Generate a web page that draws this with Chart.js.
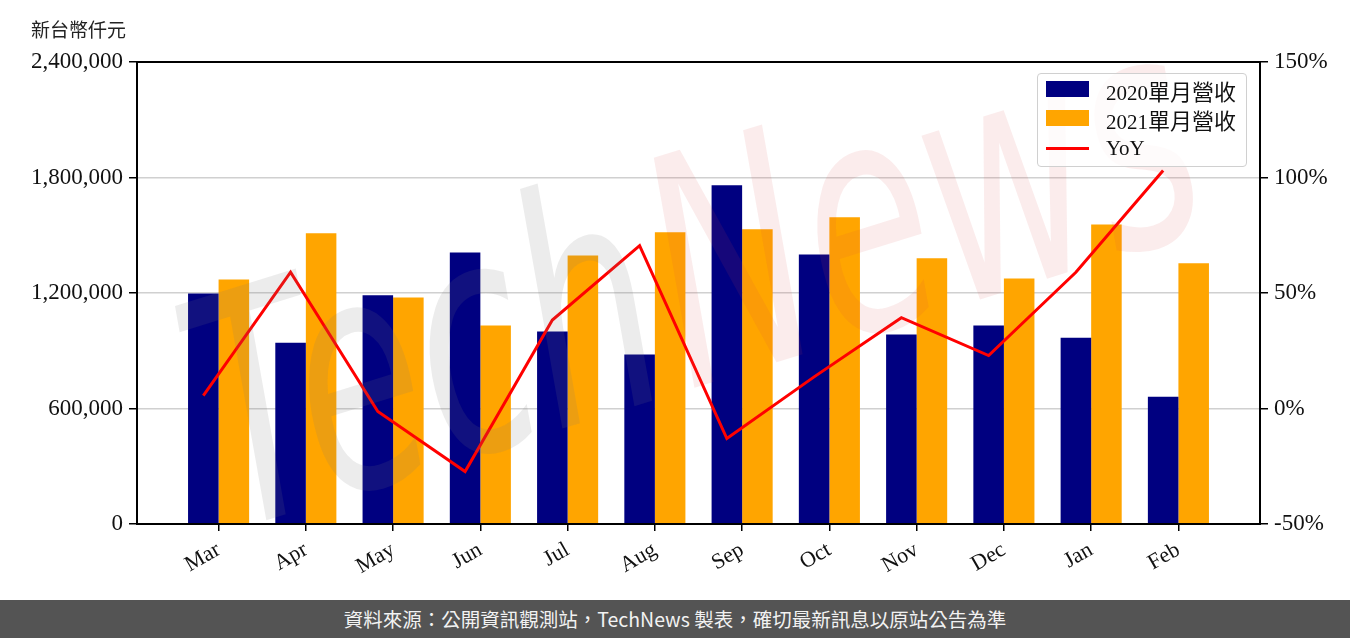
<!DOCTYPE html>
<html lang="zh-TW">
<head>
    <meta charset="UTF-8">
    <title>單月營收</title>
    <script src="https://cdn.jsdelivr.net/npm/chart.js"></script>
    <style>
        body { margin: 0; background: #fff; }
        #wrap { position: relative; width: 1350px; height: 600px; }
        .unit {
            position: absolute; left: 31px; top: 15px;
            font: 19px 'Noto Sans CJK TC', sans-serif; color: #222;
        }
        .legend {
            position: absolute; left: 1037px; top: 73px; width: 208px; height: 92px;
            border: 1px solid #d0d0d0; border-radius: 4px;
            background: rgba(255,255,255,0.8);
        }
        .legend .patch { position: absolute; left: 8px; width: 43px; height: 16px; }
        .legend .txt {
            position: absolute; left: 68px; white-space: nowrap; color: #111;
            font-family: 'Liberation Serif', serif; font-size: 21px; line-height: 24px;
        }
        .legend .txt span { font-family: 'Noto Sans CJK TC', sans-serif; font-size: 22px; }
        .footer {
            width: 1350px; height: 38px; background: #545454; color: #f2f2f2;
            font: 19.5px 'Noto Sans CJK TC', sans-serif; text-align: center; line-height: 38px;
        }
    </style>
</head>
<body>
    <div id="wrap">
        <canvas id="chart" width="1350" height="600"></canvas>
        <div class="unit">新台幣仟元</div>
        <div class="legend">
            <div class="patch" style="top:7px;background:#000080"></div>
            <div class="txt" style="top:4px">2020<span>單月營收</span></div>
            <div class="patch" style="top:36px;background:#ffa500"></div>
            <div class="txt" style="top:33px">2021<span>單月營收</span></div>
            <div class="patch" style="top:73px;height:3px;background:#ff0000"></div>
            <div class="txt" style="top:62px">YoY</div>
        </div>
    </div>
    <div class="footer">資料來源：公開資訊觀測站，TechNews 製表，確切最新訊息以原站公告為準</div>

    <script>
        // datos
        const meses = ['Mar', 'Apr', 'May', 'Jun', 'Jul', 'Aug', 'Sep', 'Oct', 'Nov', 'Dec', 'Jan', 'Feb'];
        const rev2020 = [1197000, 942000, 1188000, 1411000, 1000000, 880000, 1760000, 1400000, 984000, 1031000, 968000, 661000];
        const rev2021 = [1270000, 1510000, 1176000, 1031000, 1395000, 1515000, 1531000, 1593000, 1380000, 1275000, 1556000, 1354000];
        const yoy = [5.6, 59, -1.3, -27.3, 38.3, 70.5, -13, 13.7, 39.3, 22.9, 59, 103];
        const leftTicks = [0, 600000, 1200000, 1800000, 2400000];
        const rightTicks = [-50, 0, 50, 100, 150];

        Chart.defaults.font.family = "'Liberation Serif', 'Noto Sans CJK TC', serif";
        Chart.defaults.color = '#111';

        // marco negro alrededor del área del gráfico + marca de agua
        const marco = {
            id: 'marco',
            afterDatasetsDraw(chart) {
                const ctx = chart.ctx, a = chart.chartArea;
                ctx.save();
                ctx.beginPath();
                ctx.rect(a.left, a.top, a.right - a.left, a.bottom - a.top);
                ctx.clip();
                ctx.translate(660, 312);
                ctx.rotate(-0.30);
                ctx.scale(1, 1.55);
                ctx.font = "italic 205px 'DejaVu Sans'";
                ctx.textBaseline = 'middle';
                ctx.textAlign = 'right';
                ctx.fillStyle = 'rgba(120,120,120,0.14)';
                ctx.fillText('Tech', -5, 0);
                ctx.textAlign = 'left';
                ctx.fillStyle = 'rgba(215,70,70,0.10)';
                ctx.fillText('News', 5, 0);
                ctx.restore();

                ctx.save();
                ctx.strokeStyle = '#000';
                ctx.lineWidth = 2;
                ctx.strokeRect(a.left, a.top, a.right - a.left, a.bottom - a.top);
                ctx.restore();
            }
        };

        const ctx = document.getElementById('chart').getContext('2d');
        new Chart(ctx, {
            type: 'bar',
            data: {
                datasets: [
                    {
                        type: 'line',
                        label: 'YoY',
                        data: yoy.map((v, i) => ({ x: i - 0.175, y: v })),
                        yAxisID: 'y1',
                        borderColor: '#ff0000',
                        borderWidth: 3,
                        pointRadius: 0,
                        tension: 0,
                        order: 0
                    },
                    {
                        label: '2020單月營收',
                        data: rev2020.map((v, i) => ({ x: i, y: v })),
                        backgroundColor: '#000080',
                        yAxisID: 'y',
                        order: 1
                    },
                    {
                        label: '2021單月營收',
                        data: rev2021.map((v, i) => ({ x: i, y: v })),
                        backgroundColor: '#ffa500',
                        yAxisID: 'y',
                        order: 1
                    }
                ]
            },
            options: {
                responsive: false,
                animation: false,
                categoryPercentage: 0.7,
                barPercentage: 1.0,
                layout: { padding: { top: 62, left: 0, right: 0, bottom: 0 } },
                plugins: { legend: { display: false }, tooltip: { enabled: false } },
                scales: {
                    x: {
                        type: 'linear',
                        min: -0.935,
                        max: 11.935,
                        offset: false,
                        afterBuildTicks: axis => { axis.ticks = meses.map((m, i) => ({ value: i })); },
                        afterFit: axis => { axis.height = 76; },
                        ticks: {
                            callback: v => meses[v],
                            autoSkip: false,
                            minRotation: 30,
                            maxRotation: 30,
                            padding: 6,
                            font: { size: 22 }
                        },
                        grid: { drawOnChartArea: false, offset: false, tickColor: '#000', tickLength: 7, lineWidth: 1.5 },
                        border: { display: false }
                    },
                    y: {
                        position: 'left',
                        min: 0,
                        max: 2400000,
                        afterBuildTicks: axis => { axis.ticks = leftTicks.map(v => ({ value: v })); },
                        afterFit: axis => { axis.width = 137; },
                        ticks: {
                            callback: v => v.toLocaleString('en-US'),
                            padding: 6,
                            font: { size: 23 }
                        },
                        grid: { color: '#d0d0d0', lineWidth: 1.5, tickColor: '#000', tickLength: 8 },
                        border: { display: false }
                    },
                    y1: {
                        position: 'right',
                        min: -50,
                        max: 150,
                        afterBuildTicks: axis => { axis.ticks = rightTicks.map(v => ({ value: v })); },
                        afterFit: axis => { axis.width = 90; },
                        ticks: {
                            callback: v => v + '%',
                            padding: 6,
                            font: { size: 23 }
                        },
                        grid: { drawOnChartArea: false, tickColor: '#000', tickLength: 8, lineWidth: 1.5 },
                        border: { display: false }
                    }
                }
            },
            plugins: [marco]
        });
    </script>
</body>
</html>
